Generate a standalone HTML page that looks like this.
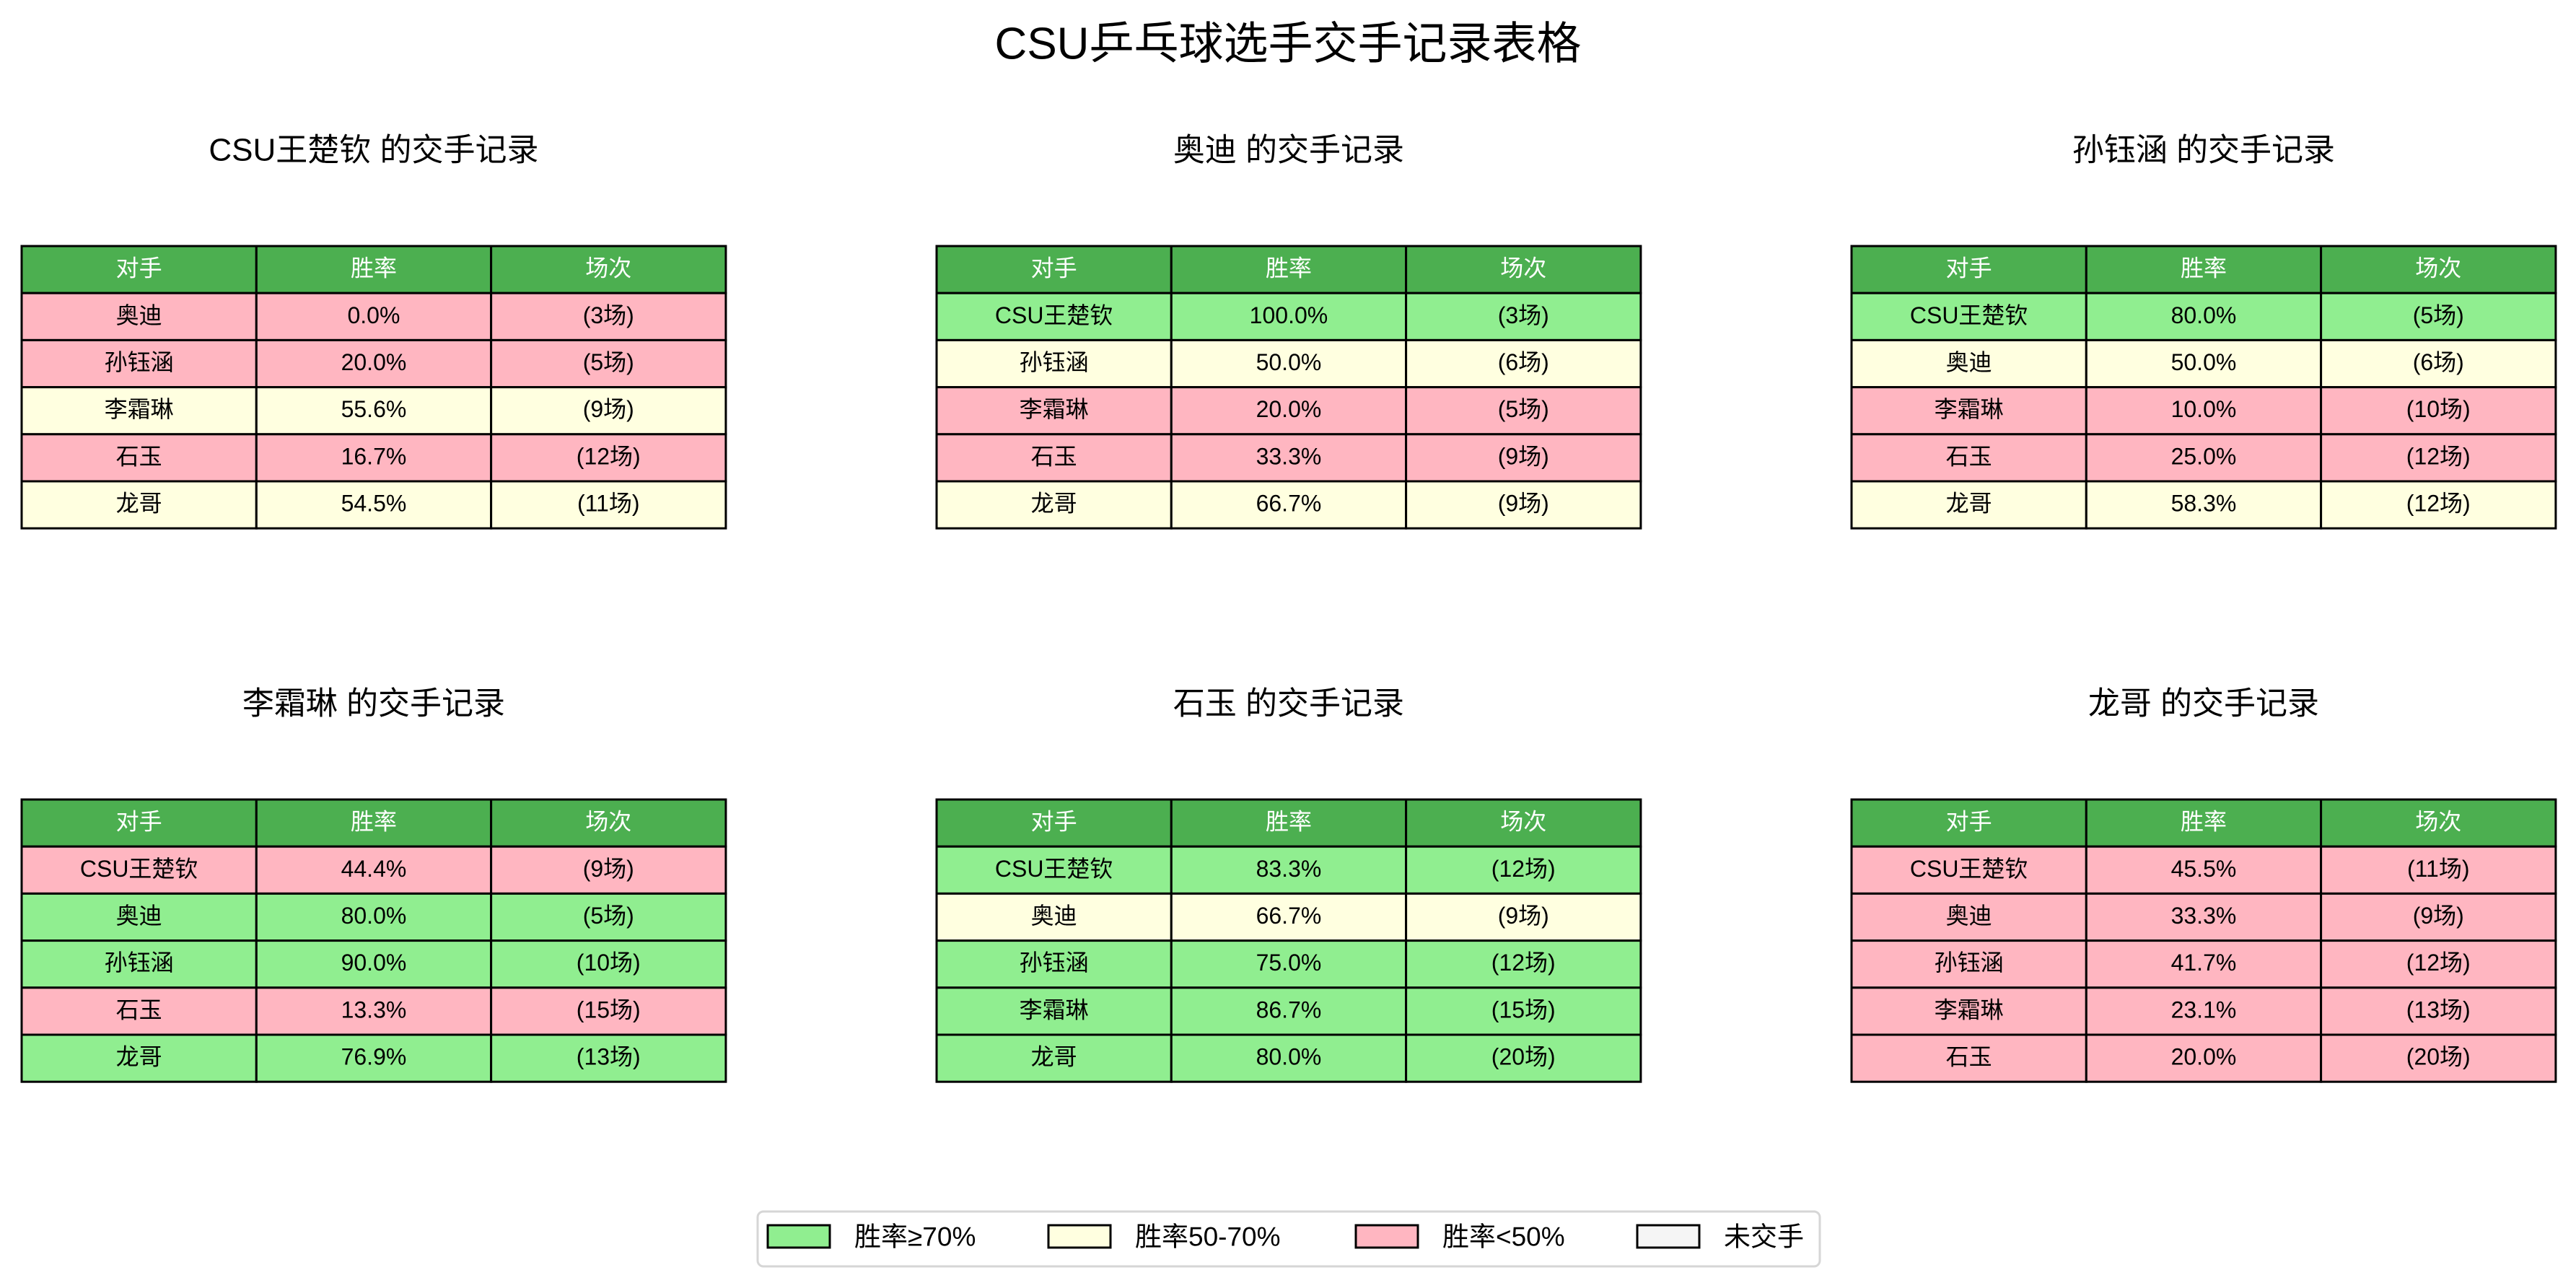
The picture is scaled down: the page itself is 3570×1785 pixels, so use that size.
<!DOCTYPE html>
<html><head><meta charset="utf-8">
<style>
html,body{margin:0;padding:0;background:#fff;}
svg{display:block;font-family:"Liberation Sans","Noto Sans CJK SC",sans-serif;}
</style></head>
<body>
<svg id="chart" width="3570" height="1785" viewBox="0 0 3570 1785" xmlns="http://www.w3.org/2000/svg">
<text x="1785" y="61" font-size="62" text-anchor="middle" dominant-baseline="central">CSU乒乓球选手交手记录表格</text>
<g id="tables"></g>
<g>
<rect x="1050" y="1679" width="1472" height="76" rx="8" fill="#fff" stroke="#d6d6d6" stroke-width="3"/>
</g>
<g id="legend-items"></g>
</svg>
<script>
const players = ["CSU王楚钦","奥迪","孙钰涵","李霜琳","石玉","龙哥"];
const opponents = [
 ["奥迪","孙钰涵","李霜琳","石玉","龙哥"],
 ["CSU王楚钦","孙钰涵","李霜琳","石玉","龙哥"],
 ["CSU王楚钦","奥迪","李霜琳","石玉","龙哥"],
 ["CSU王楚钦","奥迪","孙钰涵","石玉","龙哥"],
 ["CSU王楚钦","奥迪","孙钰涵","李霜琳","龙哥"],
 ["CSU王楚钦","奥迪","孙钰涵","李霜琳","石玉"]
];
const winRates = [
 [0.0,20.0,55.6,16.7,54.5],
 [100.0,50.0,20.0,33.3,66.7],
 [80.0,50.0,10.0,25.0,58.3],
 [44.4,80.0,90.0,13.3,76.9],
 [83.3,66.7,75.0,86.7,80.0],
 [45.5,33.3,41.7,23.1,20.0]
];
const matchCounts = [
 [3,5,9,12,11],
 [3,6,5,9,9],
 [5,6,10,12,12],
 [9,5,10,15,13],
 [12,9,12,15,20],
 [11,9,12,13,20]
];
const headers = ["对手","胜率","场次"];
const legendLabels = ["胜率≥70%","胜率50-70%","胜率<50%","未交手"];
const legendColors = ["#90ee90","#ffffe0","#ffb6c1","#f5f5f5"];

const NS="http://www.w3.org/2000/svg";
function mk(tag,attrs,parent){const e=document.createElementNS(NS,tag);for(const k in attrs)e.setAttribute(k,attrs[k]);parent.appendChild(e);return e;}
function colorFor(r){return r>=70?legendColors[0]:(r>=50?legendColors[1]:legendColors[2]);}
const tablesG=document.getElementById('tables');
const colX=[30,1298,2566], rowY=[341,1108], titleY=[208,975];
const colW=325.3, rowH=65.2;
players.forEach((p,i)=>{
  const tx=colX[i%3], ty=rowY[Math.floor(i/3)];
  const g=mk('g',{},tablesG);
  
  
  const t=mk('text',{x:tx+colW*1.5,y:titleY[Math.floor(i/3)],'font-size':44,'text-anchor':'middle','dominant-baseline':'central'},g);
  
  
  t.textContent=p+' 的交手记录';
  for(let r=0;r<=opponents[i].length;r++){
    for(let c=0;c<3;c++){
      const x=tx+c*colW,y=ty+r*rowH;
      let fill,txt,color='#000';
      if(r===0){fill='#4caf50';txt=headers[c];color='#fff';}
      else{const rate=winRates[i][r-1];fill=colorFor(rate);
        txt=c===0?opponents[i][r-1]:(c===1?rate.toFixed(1)+'%':'('+matchCounts[i][r-1]+'场)');}
      const rc=mk('rect',{x:x,y:y,width:colW,height:rowH,fill:fill,stroke:'#000','stroke-width':3},g);
      
      
      const te=mk('text',{x:x+colW/2,y:y+rowH/2-2,'font-size':32,'text-anchor':'middle','dominant-baseline':'central',fill:color},g);
      
      
      te.textContent=txt;
    }
  }
});
const lg=document.getElementById('legend-items');
const patchX=[1064,1453,1879,2269];
legendLabels.forEach((l,i)=>{
  const r=mk('rect',{x:patchX[i],y:1698,width:86,height:31,fill:legendColors[i],stroke:'#000','stroke-width':3},lg);
  
  
  const t=mk('text',{x:patchX[i]+120,y:1714,'font-size':37,'dominant-baseline':'central'},lg);
  
  
  t.textContent=l;
});
</script>
</body></html>
